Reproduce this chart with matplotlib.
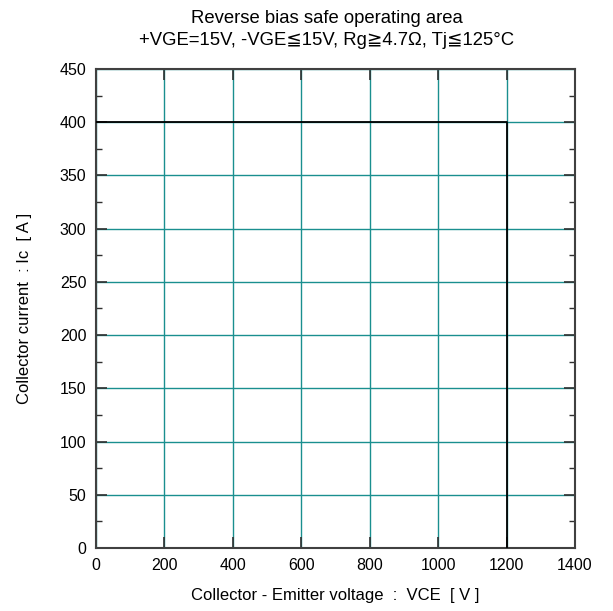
import matplotlib
matplotlib.use("Agg")
import matplotlib.pyplot as plt
from matplotlib.ticker import MultipleLocator

plt.rcParams['font.family'] = ['Liberation Sans', 'DejaVu Sans']

vce = [0, 1200, 1200]
ic = [400, 400, 0]
xticks = [0, 200, 400, 600, 800, 1000, 1200, 1400]
yticks = [0, 50, 100, 150, 200, 250, 300, 350, 400, 450]

fig = plt.figure(figsize=(6.13, 6.11), dpi=100)
ax = fig.add_axes([0.1566, 0.1031, 0.7814, 0.784])
ax.set_xlim(0, 1400)
ax.set_ylim(0, 450)
ax.set_xticks(xticks)
ax.set_yticks(yticks)
ax.yaxis.set_minor_locator(MultipleLocator(25))
ax.grid(True, which='major', color='#1a8f8f', linewidth=1.0)
ax.set_axisbelow(True)
ax.plot(vce, ic, color='black', linewidth=1.3, zorder=3)

for s in ax.spines.values():
    s.set_color('#404040')
    s.set_linewidth(1.5)
ax.tick_params(which='major', direction='in', length=8, width=1.2, color='#303030',
               top=True, right=True, labelsize=11.5, pad=7)
ax.tick_params(which='minor', direction='in', length=4, width=1.0, color='#303030',
               top=False, right=True, left=True)

ax.set_xlabel('Collector - Emitter voltage  :  VCE  [ V ]', fontsize=12, labelpad=11)
ax.set_ylabel('Collector current  : Ic  [ A ]', fontsize=12, labelpad=20)
ax.set_title('Reverse bias safe operating area\n+VGE=15V, -VGE\u226615V, Rg\u22674.7\u03a9, Tj\u2266125\u00b0C',
             fontsize=13.3, pad=17, linespacing=1.4, x=0.482)

fig.savefig('out.png', dpi=100)
